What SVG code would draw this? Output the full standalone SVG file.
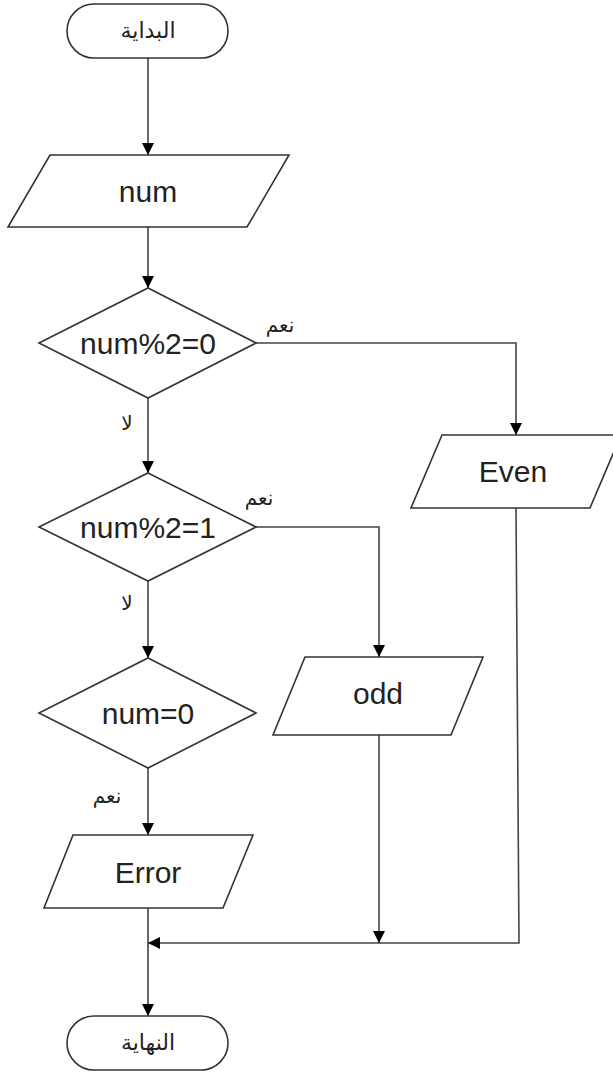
<svg xmlns="http://www.w3.org/2000/svg" width="613" height="1074" viewBox="0 0 613 1074">
<defs>
<marker id="arr" markerUnits="userSpaceOnUse" markerWidth="12" markerHeight="12" refX="12" refY="6" orient="auto">
<path d="M0,0 L12,6 L0,12 z" fill="#000"/>
</marker>
<style>
.shape{fill:#fff;stroke:#333;stroke-width:1.6}
.conn{fill:none;stroke:#444;stroke-width:1.6}
.t{font-family:"Liberation Sans",Arial,sans-serif;font-size:30px;fill:#222;text-anchor:middle;dominant-baseline:central}
.ar{font-family:"DejaVu Sans",sans-serif;font-size:22px;fill:#222;text-anchor:middle;dominant-baseline:central}
.lb{font-family:"DejaVu Sans",sans-serif;font-size:20px;fill:#222;text-anchor:middle;dominant-baseline:central}
</style>
</defs>
<rect width="613" height="1074" fill="#fff"/>
<g id="connectors">
<path class="conn" d="M148,58 L148,155" marker-end="url(#arr)"/>
<path class="conn" d="M148,227 L148,288" marker-end="url(#arr)"/>
<path class="conn" d="M256,343 L516,343 L516,435" marker-end="url(#arr)"/>
<path class="conn" d="M148,398 L148,473" marker-end="url(#arr)"/>
<path class="conn" d="M256,527 L379,527 L379,657" marker-end="url(#arr)"/>
<path class="conn" d="M148,581 L148,658" marker-end="url(#arr)"/>
<path class="conn" d="M148,768 L148,835" marker-end="url(#arr)"/>
<path class="conn" d="M516,508 L519,943 L148,943" marker-end="url(#arr)"/>
<path class="conn" d="M379,735 L379,943" marker-end="url(#arr)"/>
<path class="conn" d="M148,908 L148,1016" marker-end="url(#arr)"/>
<text class="lb" x="280" y="325">نعم</text>
<text class="lb" x="127" y="423">لا</text>
<text class="lb" x="259" y="498">نعم</text>
<text class="lb" x="127" y="603">لا</text>
<text class="lb" x="107" y="796">نعم</text>
</g>
<g id="start">
<rect class="shape" x="67" y="4" width="161" height="54" rx="27"/>
<text class="ar" x="148" y="30">البداية</text>
</g>
<g id="input-num">
<polygon class="shape" points="50,155 289,155 247,227 8,227"/>
<text class="t" x="148" y="191">num</text>
</g>
<g id="decision-even">
<polygon class="shape" points="148,288 256,343 148,398 39,343"/>
<text class="t" x="148" y="343">num%2=0</text>
</g>
<g id="output-even">
<polygon class="shape" points="442,435 621,435 590,508 411,508"/>
<text class="t" x="513" y="471">Even</text>
</g>
<g id="decision-odd">
<polygon class="shape" points="148,473 256,527 148,581 39,527"/>
<text class="t" x="148" y="527">num%2=1</text>
</g>
<g id="output-odd">
<polygon class="shape" points="305,657 483,657 451,735 273,735"/>
<text class="t" x="378" y="693">odd</text>
</g>
<g id="decision-zero">
<polygon class="shape" points="148,658 256,713 148,768 39,713"/>
<text class="t" x="148" y="713">num=0</text>
</g>
<g id="output-error">
<polygon class="shape" points="73,835 253,835 223,908 44,908"/>
<text class="t" x="148" y="872">Error</text>
</g>
<g id="end">
<rect class="shape" x="67" y="1016" width="161" height="54" rx="27"/>
<text class="ar" x="148" y="1042">النهاية</text>
</g>
</svg>
